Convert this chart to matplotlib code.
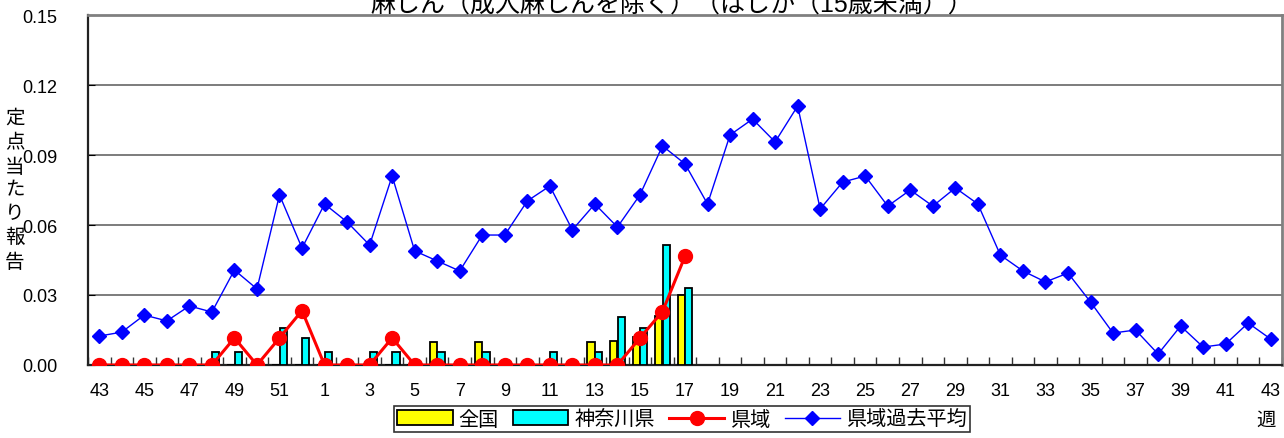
import matplotlib
matplotlib.use("Agg")
import matplotlib.pyplot as plt
import numpy as np
from matplotlib.ticker import MultipleLocator, FixedLocator, FuncFormatter

plt.rcParams['font.family'] = ['Liberation Sans', 'Noto Sans CJK JP']

weeks = list(range(43, 53)) + list(range(1, 44))

national = [0, 0, 0, 0, 0, 0, 0, 0, 0, 0, 0, 0, 0, 0, 0, 0.010, 0, 0.010, 0, 0,
            0, 0, 0.010, 0.0101, 0.012, 0.021, 0.030]
kanagawa = [0, 0, 0, 0, 0, 0.0054, 0.0054, 0, 0.016, 0.0114, 0.0054, 0, 0.0054, 0.0054, 0,
            0.0054, 0, 0.0054, 0, 0, 0.0054, 0, 0.0054, 0.0207, 0.0159, 0.0514, 0.0329]
region = [0, 0, 0, 0, 0, 0, 0.0116, 0, 0.0116, 0.0233, 0, 0, 0, 0.0116, 0, 0, 0, 0, 0, 0,
          0, 0, 0, 0, 0.0116, 0.0229, 0.0466]
past_avg = [0.0124, 0.0141, 0.0214, 0.0189, 0.0253, 0.0227, 0.0407, 0.0326, 0.0729, 0.0501,
            0.0690, 0.0613, 0.0514, 0.0810, 0.0489, 0.0446, 0.0403, 0.0557, 0.0557, 0.0703,
            0.0767, 0.0579, 0.0690, 0.0591, 0.0729, 0.0939, 0.0862, 0.0690, 0.0986, 0.1054,
            0.0956, 0.1110, 0.0669, 0.0784, 0.0810, 0.0681, 0.0750, 0.0681, 0.0759, 0.0690,
            0.0471, 0.0403, 0.0356, 0.0394, 0.0270, 0.0137, 0.0150, 0.0047, 0.0167, 0.0077,
            0.0090, 0.0180, 0.0111]

title = "麻しん（成人麻しんを除く）（はしか（15歳未満））"
ylabel = "定点当たり報告"
labels = ["全国", "神奈川県", "県域", "県域過去平均"]

W, H = 1284, 439
fig = plt.figure(figsize=(W / 100, H / 100), dpi=100)
ax = fig.add_axes([88 / W, 1 - 366 / H, (1282 - 88) / W, (366 - 16) / H])

x = np.arange(len(weeks))
xb = np.arange(len(national))
bw = 0.32
b1 = ax.bar(xb - 0.17, national, width=bw, color='#FFFF00', edgecolor='black', linewidth=1.3, zorder=3, label=labels[0])
b2 = ax.bar(xb + 0.17, kanagawa, width=bw, color='#00FFFF', edgecolor='black', linewidth=1.3, zorder=3, label=labels[1])
l2, = ax.plot(x, past_avg, color='#0000FF', lw=1.0, marker='D', ms=7.2, zorder=4, label=labels[3])
l1, = ax.plot(np.arange(len(region)), region, color='#FF0000', lw=2.2, marker='o', ms=10, zorder=5, label=labels[2])

ax.set_xlim(-0.5, len(weeks) - 0.5)
ax.set_ylim(0, 0.15)
ax.yaxis.set_major_locator(MultipleLocator(0.03))
ax.yaxis.set_major_formatter(FuncFormatter(lambda v, p: f"{v:.2f}"))
ax.grid(axis='y', color='#666666', lw=1.2, zorder=0)
ax.set_axisbelow(True)

ax.set_xticks(x[::2])
ax.set_xticklabels([str(w) for w in weeks[::2]])
ax.xaxis.set_minor_locator(FixedLocator(np.arange(-0.5, len(weeks), 1.0)))
ax.tick_params(axis='x', which='major', length=0, pad=12.5, labelsize=13)
ax.tick_params(axis='x', which='minor', direction='in', length=6, width=1, color='#333333')
ax.tick_params(axis='y', which='major', direction='in', length=5, pad=22, labelsize=13)

for s in ['left', 'bottom']:
    ax.spines[s].set_color('#222222')
    ax.spines[s].set_linewidth(1.6)
for s in ['top', 'right']:
    ax.spines[s].set_color('#808080')
    ax.spines[s].set_linewidth(2)

fig.text(672 / W, 1 - 12 / H, title, ha='center', va='baseline', fontsize=18)
fig.text(15 / W, 1 - 191 / H, "\n".join(ylabel), ha='center', va='center', fontsize=14, linespacing=1.45)
fig.text(1266 / W, 1 - 421 / H, "週", ha='center', va='center', fontsize=14)

leg = fig.legend([b1, b2, l1, l2], labels, loc='center', bbox_to_anchor=(682 / W, 1 - 420 / H),
                 ncol=4, fontsize=14.5, frameon=True, fancybox=False, edgecolor='black',
                 handlelength=2.75, handletextpad=0.3, columnspacing=0.7, borderpad=0.18,
                 borderaxespad=0)
leg.get_frame().set_linewidth(1.2)

fig.savefig("out.png", dpi=100)
